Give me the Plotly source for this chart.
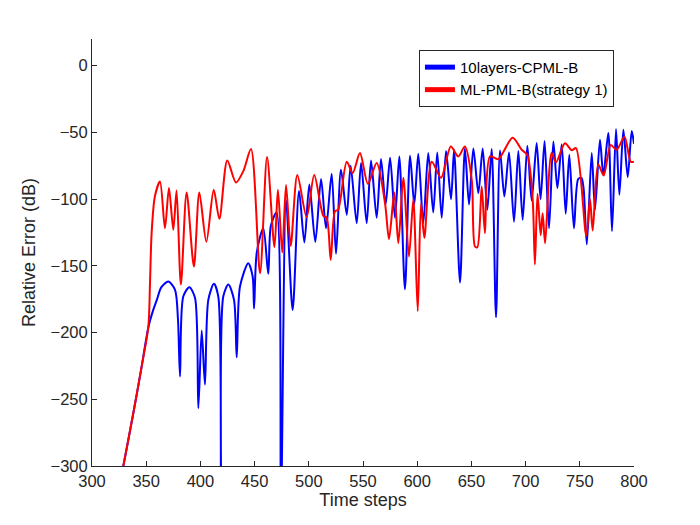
import plotly.graph_objects as go

# 10layers-CPML-B (blue)
cpml_x = [322, 328.9, 338.1, 345.8, 352, 356.5, 359.8, 364, 370.5, 376.6, 379.3, 381.2, 384.2, 389.8, 395,
          398.1, 401.2, 404.2, 407.3, 412.5, 416.5, 419, 421.1, 425.8, 431, 433.5, 436.5, 444.2, 448.2, 449.5,
          452, 458, 462.6, 465, 470.3, 474.3, 479, 485.1, 491, 495.9, 500.5, 506, 511.3, 515.9, 521.1, 525.1,
          529.7, 535, 538.6, 544.2, 548.2, 553.4, 557.4, 562.6, 566.6, 570.9, 575, 579.5, 583.5, 588.7, 593.4,
          597.3, 601, 605.6, 610.2, 614.8, 618.5, 622.6, 626.6, 631.2, 634, 639.5, 644, 647.8, 651.8, 656.4,
          660.4, 664.7, 668.7, 672.7, 676.4, 680.4, 684.7, 689.3, 693.3, 697.3, 701.6, 705.6, 710.2, 713.8,
          717.5, 721.6, 725.6, 729.3, 733.3, 737, 740.3, 744.6, 748.5, 751.5, 753.5, 756.5, 761, 764, 768.6,
          771.7, 776.3, 779.7, 783.4, 786.5, 790.2, 794.2, 797.9, 800]
cpml_y = [-330, -300, -260.5, -225.5, -196, -183, -175.5, -166, -161.8, -168, -190, -233, -173, -166, -174,
          -256.7, -198.5, -239, -175.5, -163.5, -173, -330, -173, -164, -175.5, -218.5, -165.5, -148, -158, -182,
          -140, -121.8, -156, -120, -110, -330, -101, -183, -94, -132.5, -89, -132, -85, -121.8, -81, -141,
          -78, -111.8, -75, -118, -73, -118, -71, -114, -70, -104, -69, -114, -68, -167.5, -67.5,
          -104, -66, -118, -65.5, -110, -65, -114, -64, -100, -63, -162.5, -62, -104, -62, -95.5,
          -62, -108, -62.5, -188.5, -63.5, -98, -65, -117, -64, -115.5, -60, -101, -58, -100,
          -56.5, -121.8, -56.8, -91.7, -59, -111, -66.8, -121.8, -85, -84, -92, -134, -65.5, -108, -55.5,
          -82, -50.5, -124, -47.5, -96.8, -48, -83.5, -49, -58.5]

# ML-PML-B(strategy 1) (red)
mlpml_x = [322, 328.9, 338.1, 345.8, 352, 353.5, 355, 358, 362.7, 367.3, 371, 375, 378, 382, 387.3, 394, 399,
           405.5, 412.3, 417.5, 424.8, 432.8, 439.6, 446.7, 455, 461.5, 468.3, 471.5, 475.5, 479, 483.3, 489.4,
           498, 505, 513.4, 516.5, 520.2, 524.2, 527, 535, 540.5, 547.2, 554.5, 562.6, 570.3, 574, 578.9, 582.6,
           587.2, 592.4, 596.4, 600.5, 603.5, 606.6, 613.4, 622, 631, 637.9, 644, 650.3, 653.3, 655.5, 659.5,
           662.5, 667.2, 674.8, 688, 696.4, 701.5, 706.5, 708.6, 711, 713.9, 715.7, 718, 724, 728, 736.3, 742.5,
           746.5, 756, 759.4, 761.9, 767, 772, 778.5, 784, 791.2, 797, 800]
mlpml_y = [-330, -300, -260.5, -225.5, -195.5, -163, -125.5, -98, -86.8, -121.8, -91.7, -123, -93.5, -164, -95,
           -150.5, -95, -132, -93, -114.8, -71, -87.5, -79, -62.5, -155.5, -68.5, -136, -93, -140, -89.5, -135,
           -82, -113.5, -82, -112.5, -114, -145.5, -109, -108, -72, -80.5, -65.5, -88.5, -73, -103, -130, -95,
           -133, -84, -143, -100, -184, -103.5, -129, -72, -84, -60.5, -68, -60.5, -85.5, -135.5, -136, -90.5,
           -125.5, -68, -70, -54, -63, -66.8, -100, -149, -96, -127, -110.5, -133, -65.5, -72.5, -58.2, -63.3,
           -61.8, -127.5, -100, -123.5, -74, -82.3, -59.5, -63, -53.3, -72, -72]

x_ticks = [300, 350, 400, 450, 500, 550, 600, 650, 700, 750, 800]
y_ticks = [0, -50, -100, -150, -200, -250, -300]

axis_color = "#262626"
font_family = "Liberation Sans, Arial, sans-serif"

fig = go.Figure()
fig.add_trace(go.Scatter(x=cpml_x, y=cpml_y, mode="lines", name="10layers-CPML-B",
                         line=dict(color="#0000FF", width=2, shape="spline", smoothing=0.8)))
fig.add_trace(go.Scatter(x=mlpml_x, y=mlpml_y, mode="lines", name="ML-PML-B(strategy 1)",
                         line=dict(color="#FF0000", width=2, shape="spline", smoothing=0.8)))

fig.update_layout(
    width=700, height=525,
    margin=dict(l=84, r=74, t=31, b=67),
    paper_bgcolor="white", plot_bgcolor="white",
    font=dict(family=font_family, color=axis_color),
    showlegend=True,
    legend=dict(x=0.963, y=0.9745, xanchor="right", yanchor="top",
                bgcolor="white", bordercolor=axis_color, borderwidth=1,
                font=dict(size=15, color="#000000", family=font_family),
                tracegroupgap=0, itemsizing="constant"),
)
fig.update_xaxes(range=[300, 800], tickvals=x_ticks, ticks="inside", ticklen=5, tickcolor=axis_color,
                 showline=True, linecolor=axis_color, linewidth=1, showgrid=False, zeroline=False,
                 tickfont=dict(size=16.5, color=axis_color),
                 title=dict(text="Time steps", font=dict(size=18, color=axis_color), standoff=4))
fig.update_yaxes(range=[-300, 20], tickvals=y_ticks, ticks="inside", ticklen=5, tickcolor=axis_color,
                 showline=True, linecolor=axis_color, linewidth=1, showgrid=False, zeroline=False,
                 tickfont=dict(size=16.5, color=axis_color),
                 title=dict(text="Relative Error (dB)", font=dict(size=18, color=axis_color), standoff=10))

fig.write_html("out.html")
